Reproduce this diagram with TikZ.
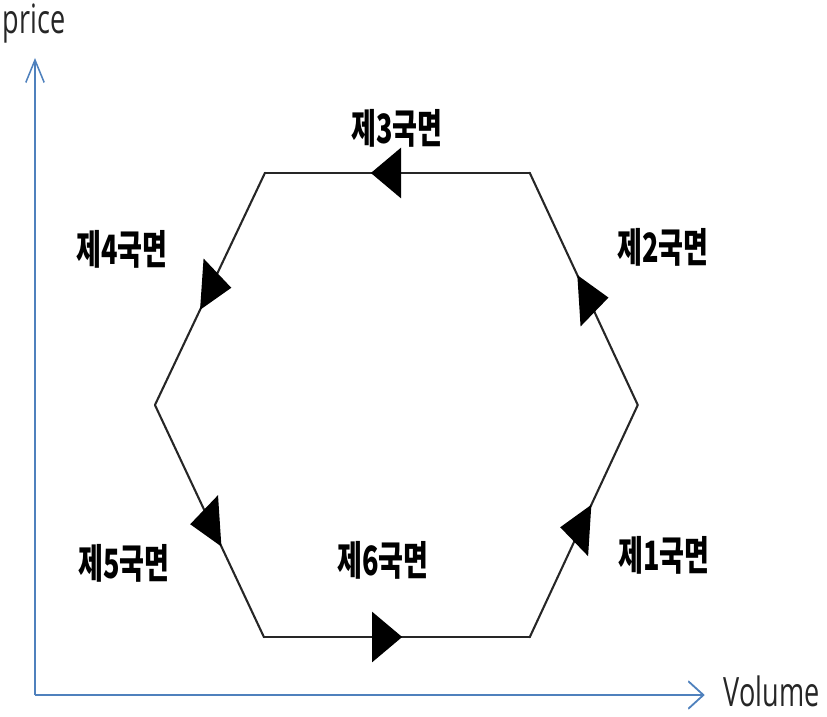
\documentclass[tikz,border=0pt]{standalone}
\usepackage{fontspec}
\setmainfont{Open Sans}
\newfontfamily\kor{Noto Sans CJK KR}
\usetikzlibrary{arrows.meta,decorations.markings}
\definecolor{axisblue}{RGB}{79,129,189}
\begin{document}
\begin{tikzpicture}[x=0.02cm,y=-0.02cm]
\useasboundingbox (0,0) rectangle (827,716);
\begin{scope}[x=0.029851cm,transform canvas={xscale=0.67},
    axis/.style={draw=axisblue,line width=1.2pt,-{Straight Barb[length=0.45cm,width=0.55cm]}},
    axislabel/.style={font=\fontsize{23}{28}\selectfont,text=black!85,anchor=base},
    hexline/.style={draw=black!85,line width=1.6pt,line cap=round},
    flow/.style={postaction={decorate},decoration={markings,
        mark=at position #1 with {\arrow{Triangle[length=0.9cm,width=1cm,color=black]}}}},
    phase/.style={font=\kor\bfseries\fontsize{23}{27}\selectfont}]
\coordinate (O) at (35,695);
\coordinate (Y) at (35,58);
\coordinate (X) at (705,695);
\draw[axis] (O) -- (Y);
\draw[axis] (O) -- (X);
\node[axislabel] (price) at (34,34) {price};
\node[axislabel] (volume) at (772,706) {Volume};
\coordinate (A) at (264,637);
\coordinate (B) at (530,637);
\coordinate (C) at (638,405);
\coordinate (D) at (530,173);
\coordinate (E) at (265,173);
\coordinate (F) at (155,405);
\draw[hexline,flow=0.52] (A) -- (B);
\draw[hexline,flow=0.57] (B) -- (C);
\draw[hexline,flow=0.56] (C) -- (D);
\draw[hexline,flow=0.60] (D) -- (E);
\draw[hexline,flow=0.59] (E) -- (F);
\draw[hexline,flow=0.61] (F) -- (A);
\node[phase] (ph1) at (664,555) {제1국면};
\node[phase] (ph2) at (663,247) {제2국면};
\node[phase] (ph3) at (397,128) {제3국면};
\node[phase] (ph4) at (122,249) {제4국면};
\node[phase] (ph5) at (124,563) {제5국면};
\node[phase] (ph6) at (383,560) {제6국면};
\end{scope}
\end{tikzpicture}
\end{document}
